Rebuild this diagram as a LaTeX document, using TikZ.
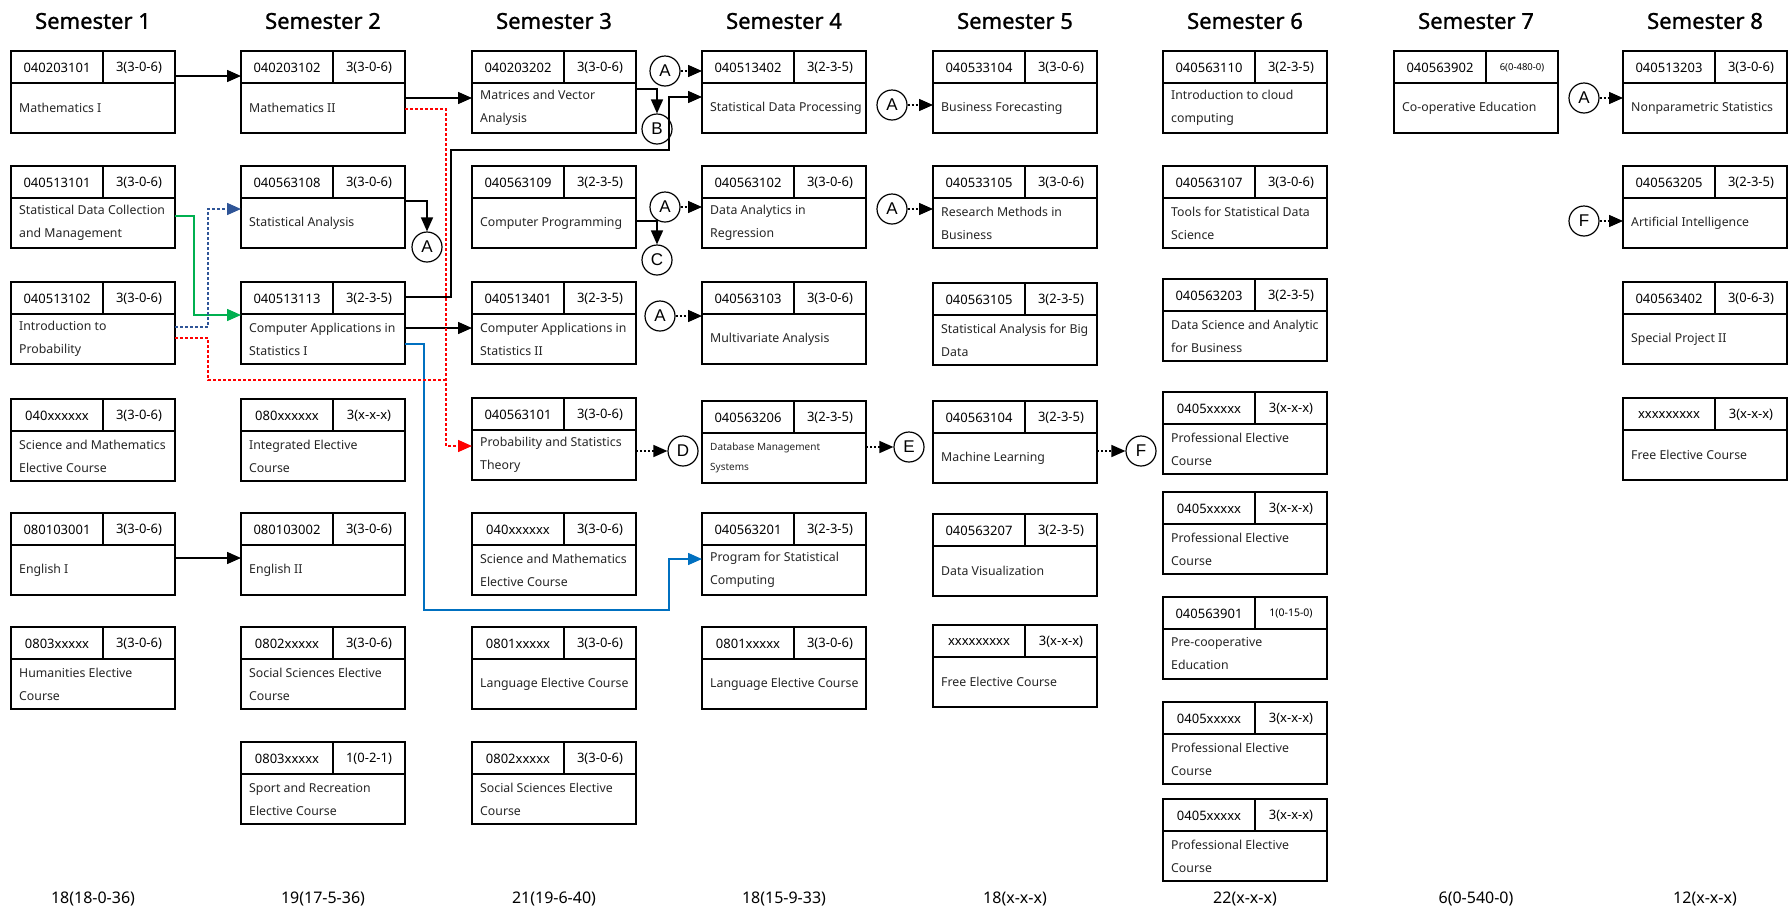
\documentclass[tikz,border=0pt]{standalone}
\usepackage{fontspec}
\setmainfont{Noto Sans}
\newfontfamily\circfont{Liberation Sans}
\newfontfamily\headfont[FakeBold=1.2]{Noto Sans}
\usetikzlibrary{arrows.meta,calc}
\definecolor{redl}{HTML}{FF0000}
\definecolor{dblue}{HTML}{2F5597}
\definecolor{greenl}{HTML}{00B050}
\definecolor{bluel}{HTML}{0070C0}
\tikzset{
 cbox/.style={draw, line width=1.6pt, minimum width=164pt, minimum height=82pt, inner sep=0pt, outer sep=0pt},
 cline/.style={line width=1.6pt},
 codetxt/.style={inner sep=0pt, font=\fontsize{13}{15}\selectfont},
 credtxt/.style={inner sep=0pt, font=\fontsize{13}{15}\selectfont},
 titletxt/.style={inner sep=0pt, anchor=west, align=left, font=\fontsize{12.3}{23}\selectfont, text=black!85},
 head/.style={font=\headfont\fontsize{22}{26}\selectfont},
 total/.style={font=\fontsize{16}{19}\selectfont},
 circ/.style={circle, draw, fill=white, line width=1.2pt, minimum size=30pt, inner sep=0pt, font=\circfont\fontsize{17}{19}\selectfont},
 arr/.style={line width=1.5pt, -{Triangle[length=14pt,width=12pt]}},
 darr/.style={arr, dash pattern=on 2pt off 2pt},
 reddot/.style={line width=1.5pt, draw=redl, dash pattern=on 3pt off 2pt},
 bluedot/.style={line width=1.5pt, draw=dblue, dash pattern=on 3pt off 2pt},
}
% #1 options, #2 id, #3 x, #4 y(top), #5 code, #6 credit, #7 title
\newcommand\crs[7][]{%
 \begin{scope}[#1]
 \node[cbox] (#2) at ({#3+82},{#4+41}) {};
 \draw[cline] ({#3},{#4+32}) -- ({#3+164},{#4+32});
 \draw[cline] ({#3+92},{#4}) -- ({#3+92},{#4+32});
 \node[codetxt] (#2-code) at ({#3+46},{#4+17}) {#5};
 \node[credtxt] (#2-cred) at ({#3+128},{#4+17}) {#6};
 \node[titletxt] (#2-title) at ({#3+8},{#4+57}) {#7};
 \end{scope}}
\begin{document}
\begin{tikzpicture}[x=1pt,y=-1pt]
\useasboundingbox[fill=white] (0,0) rectangle (1789,911);
% headings
\node[head] (h1) at (93,21) {Semester 1};
\node[head] (h2) at (323,21) {Semester 2};
\node[head] (h3) at (554,21) {Semester 3};
\node[head] (h4) at (784,21) {Semester 4};
\node[head] (h5) at (1015,21) {Semester 5};
\node[head] (h6) at (1245,21) {Semester 6};
\node[head] (h7) at (1476,21) {Semester 7};
\node[head] (h8) at (1705,21) {Semester 8};
% totals
\node[total] (t1) at (93,899) {18(18-0-36)};
\node[total] (t2) at (323,899) {19(17-5-36)};
\node[total] (t3) at (554,899) {21(19-6-40)};
\node[total] (t4) at (784,899) {18(15-9-33)};
\node[total] (t5) at (1015,899) {18(x-x-x)};
\node[total] (t6) at (1245,899) {22(x-x-x)};
\node[total] (t7) at (1476,899) {6(0-540-0)};
\node[total] (t8) at (1705,899) {12(x-x-x)};
% Semester 1
\crs{s1r1}{11}{51}{040203101}{3(3-0-6)}{Mathematics I}
\crs{s1r2}{11}{166}{040513101}{3(3-0-6)}{Statistical Data Collection\\and Management}
\crs{s1r3}{11}{282}{040513102}{3(3-0-6)}{Introduction to\\Probability}
\crs{s1r4}{11}{399}{040xxxxxx}{3(3-0-6)}{Science and Mathematics\\Elective Course}
\crs{s1r5}{11}{513}{080103001}{3(3-0-6)}{English I}
\crs{s1r6}{11}{627}{0803xxxxx}{3(3-0-6)}{Humanities Elective\\Course}
% Semester 2
\crs{s2r1}{241}{51}{040203102}{3(3-0-6)}{Mathematics II}
\crs{s2r2}{241}{166}{040563108}{3(3-0-6)}{Statistical Analysis}
\crs{s2r3}{241}{282}{040513113}{3(2-3-5)}{Computer Applications in\\Statistics I}
\crs{s2r4}{241}{399}{080xxxxxx}{3(x-x-x)}{Integrated Elective\\Course}
\crs{s2r5}{241}{513}{080103002}{3(3-0-6)}{English II}
\crs{s2r6}{241}{627}{0802xxxxx}{3(3-0-6)}{Social Sciences Elective\\Course}
\crs{s2r7}{241}{742}{0803xxxxx}{1(0-2-1)}{Sport and Recreation\\Elective Course}
% Semester 3
\crs{s3r1}{472}{51}{040203202}{3(3-0-6)}{Matrices and Vector\\Analysis}
\crs{s3r2}{472}{166}{040563109}{3(2-3-5)}{Computer Programming}
\crs{s3r3}{472}{282}{040513401}{3(2-3-5)}{Computer Applications in\\Statistics II}
\crs{s3r4}{472}{398}{040563101}{3(3-0-6)}{Probability and Statistics\\Theory}
\crs{s3r5}{472}{513}{040xxxxxx}{3(3-0-6)}{Science and Mathematics\\Elective Course}
\crs{s3r6}{472}{627}{0801xxxxx}{3(3-0-6)}{Language Elective Course}
\crs{s3r7}{472}{742}{0802xxxxx}{3(3-0-6)}{Social Sciences Elective\\Course}
% Semester 4
\crs{s4r1}{702}{51}{040513402}{3(2-3-5)}{Statistical Data Processing}
\crs{s4r2}{702}{166}{040563102}{3(3-0-6)}{Data Analytics in\\Regression}
\crs{s4r3}{702}{282}{040563103}{3(3-0-6)}{Multivariate Analysis}
\crs[titletxt/.append style={font=\fontsize{10}{20}\selectfont}]{s4r4}{702}{401}{040563206}{3(2-3-5)}{Database Management\\Systems}
\crs{s4r5}{702}{513}{040563201}{3(2-3-5)}{Program for Statistical\\Computing}
\crs{s4r6}{702}{627}{0801xxxxx}{3(3-0-6)}{Language Elective Course}
% Semester 5
\crs{s5r1}{933}{51}{040533104}{3(3-0-6)}{Business Forecasting}
\crs{s5r2}{933}{166}{040533105}{3(3-0-6)}{Research Methods in\\Business}
\crs{s5r3}{933}{283}{040563105}{3(2-3-5)}{Statistical Analysis for Big\\Data}
\crs{s5r4}{933}{401}{040563104}{3(2-3-5)}{Machine Learning}
\crs{s5r5}{933}{514}{040563207}{3(2-3-5)}{Data Visualization}
\crs{s5r6}{933}{625}{xxxxxxxxx}{3(x-x-x)}{Free Elective Course}
% Semester 6
\crs{s6r1}{1163}{51}{040563110}{3(2-3-5)}{Introduction to cloud\\computing}
\crs{s6r2}{1163}{166}{040563107}{3(3-0-6)}{Tools for Statistical Data\\Science}
\crs{s6r3}{1163}{279}{040563203}{3(2-3-5)}{Data Science and Analytic\\for Business}
\crs{s6r4}{1163}{392}{0405xxxxx}{3(x-x-x)}{Professional Elective\\Course}
\crs{s6r5}{1163}{492}{0405xxxxx}{3(x-x-x)}{Professional Elective\\Course}
\crs[credtxt/.append style={font=\fontsize{10.5}{12}\selectfont}]{s6r6}{1163}{597}{040563901}{1(0-15-0)}{Pre-cooperative\\Education}
\crs{s6r7}{1163}{702}{0405xxxxx}{3(x-x-x)}{Professional Elective\\Course}
\crs{s6r8}{1163}{799}{0405xxxxx}{3(x-x-x)}{Professional Elective\\Course}
% Semester 7
\crs[credtxt/.append style={font=\fontsize{9.5}{11}\selectfont}]{s7r1}{1394}{51}{040563902}{6(0-480-0)}{Co-operative Education}
% Semester 8
\crs{s8r1}{1623}{51}{040513203}{3(3-0-6)}{Nonparametric Statistics}
\crs{s8r2}{1623}{166}{040563205}{3(2-3-5)}{Artificial Intelligence}
\crs{s8r3}{1623}{282}{040563402}{3(0-6-3)}{Special Project II}
\crs{s8r4}{1623}{398}{xxxxxxxxx}{3(x-x-x)}{Free Elective Course}
% connector circles
\node[circ] (ca1) at (427,247) {A};
\node[circ] (cb) at (657,129) {B};
\node[circ] (cc) at (657,260) {C};
\node[circ] (ca2) at (665,71) {A};
\node[circ] (ca3) at (665,207) {A};
\node[circ] (ca4) at (660,316) {A};
\node[circ] (ca5) at (892,105) {A};
\node[circ] (ca6) at (892,209) {A};
\node[circ] (ca7) at (1584,98) {A};
\node[circ] (cf2) at (1584,221) {F};
\node[circ] (cd) at (683,451) {D};
\node[circ] (ce) at (909,447) {E};
\node[circ] (cf) at (1141,451) {F};
\coordinate (rj) at (446,380);
\coordinate (kb) at (669,150);
\coordinate (kc) at (669,610);
% solid connectors
\draw[arr] ($(s1r1.north east)+(0,25)$) -- ($(s2r1.north west)+(0,25)$);
\draw[arr] ($(s2r1.north east)+(0,47)$) -- ($(s3r1.north west)+(0,47)$);
\draw[arr] ($(s1r5.north east)+(0,45)$) -- ($(s2r5.north west)+(0,45)$);
\draw[arr] ($(s2r2.north east)+(0,35)$) -| (ca1.north);
\draw[arr] ($(s3r1.north east)+(0,38)$) -| (cb.north);
\draw[arr] ($(s3r2.north east)+(0,55)$) -| (cc.north);
\draw[arr] ($(s2r3.north east)+(0,15)$) -- ++(46,0) |- (kb) |- ($(s4r1.north west)+(0,46)$);
\draw[arr] ($(s2r3.north east)+(0,46)$) -- ($(s3r3.north west)+(0,46)$);
\draw[arr, draw=greenl] ($(s1r2.north east)+(0,50)$) -- ++(19,0) |- ($(s2r3.north west)+(0,33)$);
\draw[arr, draw=bluel] ($(s2r3.north east)+(0,62)$) -- ++(19,0) |- (kc) |- ($(s4r5.north west)+(0,46)$);
% dotted connectors
\draw[reddot, -{Triangle[length=14pt,width=12pt]}] ($(s2r1.north east)+(0,58)$) -| ($(s3r4.north west)+(-26,48)$) -- ($(s3r4.north west)+(0,48)$);
\draw[reddot] ($(s1r3.north east)+(0,56)$) -- ++(33,0) |- (rj);
\draw[bluedot, -{Triangle[length=14pt,width=12pt]}] ($(s1r3.north east)+(0,45)$) -- ++(33,0) |- ($(s2r2.north west)+(0,43)$);
\draw[darr] (ca2) -- ($(s4r1.north west)+(0,20)$);
\draw[darr] (ca3) -- ($(s4r2.north west)+(0,41)$);
\draw[darr] (ca4) -- ($(s4r3.north west)+(0,34)$);
\draw[darr] (ca5) -- ($(s5r1.north west)+(0,54)$);
\draw[darr] (ca6) -- ($(s5r2.north west)+(0,43)$);
\draw[darr] (ca7) -- ($(s8r1.north west)+(0,47)$);
\draw[darr] (cf2) -- ($(s8r2.north west)+(0,55)$);
\draw[darr] ($(s3r4.north east)+(0,53)$) -- (cd);
\draw[darr] ($(s4r4.north east)+(0,46)$) -- (ce);
\draw[darr] ($(s5r4.north east)+(0,50)$) -- (cf);
\end{tikzpicture}
\end{document}
